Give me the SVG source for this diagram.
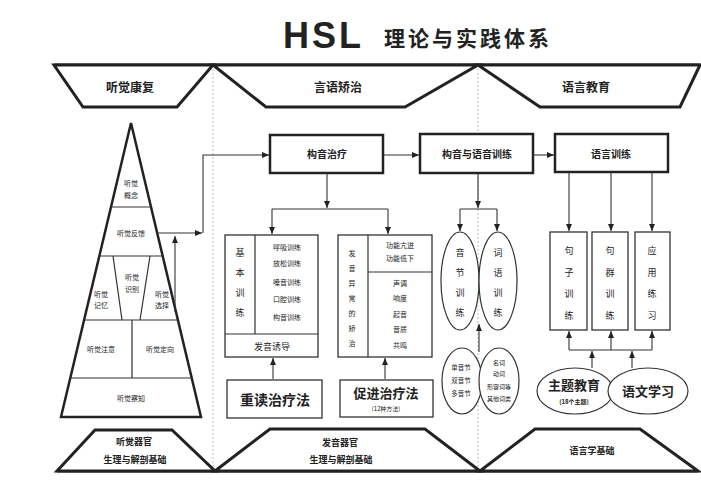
<svg xmlns="http://www.w3.org/2000/svg" width="701" height="480" viewBox="0 0 701 480">
<defs>
<marker id="ah" markerWidth="7" markerHeight="6" refX="7" refY="3" orient="auto" markerUnits="userSpaceOnUse"><path d="M0,0 L7,3 L0,6 z" fill="#222"/></marker>
<style>
text{font-family:"Noto Sans CJK SC","Noto Sans",sans-serif;fill:#222;text-anchor:middle}
.trap{fill:#fff;stroke:#222;stroke-width:3;stroke-linejoin:miter}
.band{stroke:#222;stroke-width:3;fill:none}
.guide{stroke:#bbb;stroke-width:1;stroke-dasharray:2 2;fill:none}
.main{fill:#fff;stroke:#222;stroke-width:2.5}
.box{fill:#fff;stroke:#333;stroke-width:1.3}
.ln{stroke:#333;stroke-width:1.2;fill:none}
.ell{fill:#fff;stroke:#333;stroke-width:1.2}
.con{stroke:#333;stroke-width:1.1;fill:none}
.arr{stroke:#333;stroke-width:1.1;fill:none;marker-end:url(#ah)}
.hd{font-size:12px;font-weight:bold}
.sm{font-size:9px}
.xs{font-size:7px}
.bx{font-size:10px}
.big{font-size:14px;font-weight:bold}
</style>
</defs>
<rect width="701" height="480" fill="#fff"/>
<g id="title">
<text x="283" y="48" style="font-family:'Liberation Sans',sans-serif;font-size:36px;font-weight:bold;text-anchor:start;letter-spacing:3px">HSL</text>
<text x="384" y="46" style="font-size:21px;font-weight:bold;text-anchor:start;letter-spacing:3px">理论与实践体系</text>
</g>
<g id="guides">
<path class="guide" d="M213,65 V471 M478,65 V471"/>
</g>
<g id="top-band">
<path class="band" d="M54,65 H700"/>
<g id="top-hearing"><polygon class="trap" points="54,65 213,65 177,107 83,107"/><text class="hd" x="130" y="92">听觉康复</text></g>
<g id="top-speech"><polygon class="trap" points="213,65 478,65 405,107 266,107"/><text class="hd" x="338" y="92">言语矫治</text></g>
<g id="top-language"><polygon class="trap" points="478,65 700,65 680,107 540,107"/><text class="hd" x="586" y="92">语言教育</text></g>
</g>
<g id="bottom-band">
<path class="band" d="M57,471 H698"/>
<g id="bottom-hearing"><polygon class="trap" points="57,471 95,430 172,430 215,471"/><text class="sm" x="134" y="445" font-weight="bold">听觉器官</text><text class="sm" x="135" y="463" font-weight="bold">生理与解剖基础</text></g>
<g id="bottom-speech"><polygon class="trap" points="215,471 270,429 425,429 480,471"/><text class="sm" x="340" y="446" font-weight="bold">发音器官</text><text class="sm" x="341" y="463" font-weight="bold">生理与解剖基础</text></g>
<g id="bottom-language"><polygon class="trap" points="480,471 535,429 640,429 698,471"/><text class="sm" x="592" y="454" font-weight="bold">语言学基础</text></g>
</g>
<g id="pyramid">
<polygon points="131,123 201,417 61,417" fill="#fff" stroke="#222" stroke-width="2.5" stroke-linejoin="miter"/>
<path class="ln" d="M111,207 H151 M99,256 H163 M84,320 H178 M70,378 H192 M113,256 L122,320 M150,256 L140,320 M132,320 V378"/>
<text class="xs" x="131" y="186">听觉</text><text class="xs" x="131" y="198">概念</text>
<text class="xs" x="131" y="236">听觉反馈</text>
<text class="xs" x="132" y="280">听觉</text><text class="xs" x="132" y="292">识别</text>
<text class="xs" x="101" y="297">听觉</text><text class="xs" x="101" y="308">记忆</text>
<text class="xs" x="162" y="297">听觉</text><text class="xs" x="162" y="308">选择</text>
<text class="xs" x="101" y="352">听觉注意</text>
<text class="xs" x="160" y="352">听觉定向</text>
<text class="xs" x="131" y="401">听觉察知</text>
</g>
<g id="n-gouyin-zhiliao"><rect class="main" x="270" y="135" width="113" height="38"/><text class="bx" x="327" y="158" font-weight="bold">构音治疗</text></g>
<g id="n-gouyin-yuyin"><rect class="main" x="420" y="134" width="113" height="39"/><text class="bx" x="477" y="158" font-weight="bold">构音与语音训练</text></g>
<g id="n-yuyan-xunlian"><rect class="main" x="555" y="134" width="113" height="38"/><text class="bx" x="611" y="158" font-weight="bold">语言训练</text></g>
<g id="n-jiben">
<rect class="box" x="225" y="235" width="93" height="122"/>
<path class="ln" d="M255,235 V334 M225,334 H318"/>
<text class="sm"><tspan x="240" y="256">基</tspan><tspan x="240" y="276">本</tspan><tspan x="240" y="296">训</tspan><tspan x="240" y="316">练</tspan></text>
<text class="xs" x="287" y="250">呼吸训练</text>
<text class="xs" x="287" y="266">放松训练</text>
<text class="xs" x="287" y="285">嗓音训练</text>
<text class="xs" x="287" y="302">口腔训练</text>
<text class="xs" x="287" y="320">构音训练</text>
<text class="sm" x="272" y="350">发音诱导</text>
</g>
<g id="n-fayin-yichang">
<rect class="box" x="338" y="235" width="94" height="122"/>
<path class="ln" d="M368,235 V357 M368,272 H432"/>
<text class="xs"><tspan x="352" y="256">发</tspan><tspan x="352" y="271">音</tspan><tspan x="352" y="286">异</tspan><tspan x="352" y="301">常</tspan><tspan x="352" y="316">的</tspan><tspan x="352" y="331">矫</tspan><tspan x="352" y="346">治</tspan></text>
<text class="xs" x="400" y="248">功能亢进</text>
<text class="xs" x="400" y="261">功能低下</text>
<text class="xs" x="400" y="286">声调</text>
<text class="xs" x="400" y="301">响度</text>
<text class="xs" x="400" y="317">起音</text>
<text class="xs" x="400" y="332">音质</text>
<text class="xs" x="400" y="348">共鸣</text>
</g>
<g id="n-zhongdu"><rect class="box" x="227" y="380" width="95" height="38"/><text class="big" x="275" y="405">重读治疗法</text></g>
<g id="n-cujin"><rect class="box" x="340" y="380" width="93" height="37"/><text x="386" y="398" style="font-size:13px;font-weight:bold">促进治疗法</text><text x="386" y="411" style="font-size:6px">(12种方法)</text></g>
<g id="n-yinjie"><ellipse class="ell" cx="460" cy="281" rx="19" ry="49"/><text class="sm"><tspan x="460" y="256">音</tspan><tspan x="460" y="276">节</tspan><tspan x="460" y="296">训</tspan><tspan x="460" y="316">练</tspan></text></g>
<g id="n-ciyu"><ellipse class="ell" cx="498" cy="281" rx="19" ry="49"/><text class="sm"><tspan x="498" y="256">词</tspan><tspan x="498" y="276">语</tspan><tspan x="498" y="296">训</tspan><tspan x="498" y="316">练</tspan></text></g>
<g id="n-yinjie-types"><ellipse class="ell" cx="462" cy="381" rx="20" ry="33"/><text style="font-size:6.5px"><tspan x="461" y="370">单音节</tspan><tspan x="461" y="383">双音节</tspan><tspan x="461" y="396">多音节</tspan></text></g>
<g id="n-ci-types"><ellipse class="ell" cx="499" cy="381" rx="20" ry="33"/><text style="font-size:6px"><tspan x="499" y="365">名词</tspan><tspan x="499" y="376">动词</tspan><tspan x="499" y="389">形容词等</tspan><tspan x="499" y="401">其他词类</tspan></text></g>
<g id="n-juzi"><rect class="box" x="550" y="232" width="37" height="98"/><text class="sm"><tspan x="569" y="254">句</tspan><tspan x="569" y="276">子</tspan><tspan x="569" y="297">训</tspan><tspan x="569" y="319">练</tspan></text></g>
<g id="n-juqun"><rect class="box" x="592" y="232" width="36" height="98"/><text class="sm"><tspan x="610" y="254">句</tspan><tspan x="610" y="276">群</tspan><tspan x="610" y="297">训</tspan><tspan x="610" y="319">练</tspan></text></g>
<g id="n-yingyong"><rect class="box" x="635" y="232" width="35" height="98"/><text class="sm"><tspan x="652" y="254">应</tspan><tspan x="652" y="276">用</tspan><tspan x="652" y="297">练</tspan><tspan x="652" y="319">习</tspan></text></g>
<g id="n-zhuti"><ellipse class="ell" cx="575" cy="391" rx="38" ry="23"/><text x="574" y="390" style="font-size:13px;font-weight:bold">主题教育</text><text x="574" y="404" style="font-size:6px;font-weight:bold">(18个主题)</text></g>
<g id="n-yuwen"><ellipse class="ell" cx="648" cy="391" rx="40" ry="23"/><text x="648" y="396" style="font-size:13px;font-weight:bold">语文学习</text></g>
<g id="connectors">
<path class="arr" d="M157,233 H202"/>
<path class="arr" d="M175,312 V236"/>
<path class="arr" d="M203,233 V155 H269"/>
<path class="arr" d="M383,155 H419"/>
<path class="arr" d="M533,155 H554"/>
<path class="arr" d="M327,173 V208"/>
<path class="con" d="M272,209 H388"/>
<path class="arr" d="M272,209 V234"/>
<path class="arr" d="M388,209 V234"/>
<path class="arr" d="M478,173 V208"/>
<path class="con" d="M460,209 H497"/>
<path class="arr" d="M460,209 V231"/>
<path class="arr" d="M497,209 V231"/>
<path class="arr" d="M569,172 V231"/>
<path class="arr" d="M611,172 V231"/>
<path class="arr" d="M652,172 V231"/>
<path class="con" d="M569,350 H652"/>
<path class="arr" d="M569,350 V331"/>
<path class="arr" d="M611,350 V331"/>
<path class="arr" d="M652,350 V331"/>
<path class="arr" d="M592,368 V351"/>
<path class="arr" d="M632,368 V351"/>
<path class="arr" d="M273,379 V358"/>
<path class="arr" d="M385,379 V358"/>
<path class="arr" d="M479,352 V324"/>
</g>
</svg>
